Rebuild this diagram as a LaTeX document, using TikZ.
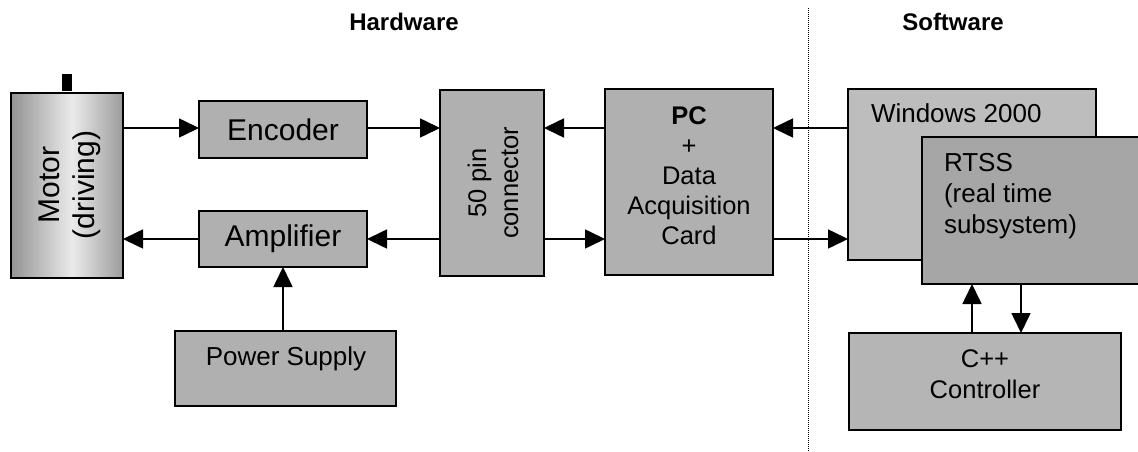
\documentclass[tikz,border=0pt]{standalone}
\usepackage{fontspec}
\setmainfont{Liberation Sans}
\usetikzlibrary{arrows.meta,calc}
\definecolor{boxgray}{gray}{0.69}
\definecolor{wingray}{gray}{0.74}
\definecolor{rtssgray}{gray}{0.65}
\definecolor{cppgray}{gray}{0.71}
\newcommand\FsA{\fontsize{30}{35}\selectfont}
\newcommand\FsB{\fontsize{25.5}{30}\selectfont}
\newcommand\FsC{\fontsize{26}{31}\selectfont}
\newcommand\FsT{\fontsize{24}{28}\selectfont\bfseries}
\begin{document}
\begin{tikzpicture}[x=1pt,y=-1pt,
  box/.style={draw=black, line width=1.6pt, fill=boxgray, inner sep=0pt, outer sep=0pt},
  txt/.style={inner sep=0pt, outer sep=0pt, text=black},
  arr/.style={line width=1.6pt, -{Triangle[length=20pt,width=19pt]}},
  sep/.style={line width=1pt, dash pattern=on 1pt off 1pt, black}]
\useasboundingbox (0,0) rectangle (1138,452);
\begin{scope}
\clip (0,0) rectangle (1138,452);

% titles
\node[txt, font=\FsT] (hw) at (404,22) {Hardware};
\node[txt, font=\FsT] (sw) at (953,22) {Software};

% separator
\coordinate (septop) at (808,8);
\coordinate (sepbot) at (808,452);
\draw[sep] (septop) -- (sepbot);

% motor (cylinder-like shading drawn as strips)
\node[fill=black, minimum width=10pt, minimum height=17pt, inner sep=0pt] (shaft) at (67,82.5) {};
\foreach \i in {0,...,55} {
  \pgfmathsetmacro{\t}{\i/55}
  \pgfmathsetmacro{\p}{\t<0.55 ? 42-34*(\t/0.55) : 8+30*((\t-0.55)/0.45)}
  \fill[black!\p] (11+2*\i,93) rectangle (13.2+2*\i,278);
}
\node[box, fill=none, minimum width=112pt, minimum height=185pt] (motor) at (67,185.5) {};
\node[txt, rotate=90, align=center, font=\FsA] (motortxt) at (70,185) {Motor\\(driving)};

% hardware boxes
\node[box, minimum width=168pt, minimum height=57pt, font=\FsA] (enc) at (283,129.5) {Encoder};
\node[box, minimum width=168pt, minimum height=56pt, font=\FsA] (amp) at (283,239) {Amplifier};
\node[box, minimum width=221pt, minimum height=75pt] (ps) at (285.5,368.5) {};
\node[txt, font=\FsC] (pstxt) at (286,359) {Power Supply};
\node[box, minimum width=104pt, minimum height=186pt] (conn) at (492,183) {};
\node[txt, rotate=90, align=center, font=\fontsize{25.5}{32}\selectfont] (conntxt) at (493,183) {50 pin\\connector};
\node[box, minimum width=168pt, minimum height=186pt] (pc) at (689,182) {};
\node[txt, align=center, font=\FsB] (pctxt) at (689,176) {\textbf{PC}\\+\\Data\\Acquisition\\Card};

% software boxes
\node[box, fill=wingray, minimum width=248pt, minimum height=171pt] (win) at (972,174.5) {};
\node[txt, anchor=base west, font=\FsC] (wintxt) at (871,122) {Windows 2000};
\node[box, fill=rtssgray, minimum width=228pt, minimum height=147pt] (rtss) at (1036,210.5) {};
\node[txt, anchor=north west, align=left, font=\FsC] (rtsstxt) at (944,153.5) {RTSS\\(real time\\subsystem)};
\node[box, fill=cppgray, minimum width=272pt, minimum height=97pt] (cpp) at (985,381.5) {};
\node[txt, align=center, font=\fontsize{25.5}{31}\selectfont] (cpptxt) at (985,374.5) {C++\\Controller};

% connectors
\coordinate (top) at (0,128);
\coordinate (bot) at (0,239);
\coordinate (upx) at (972,0);
\coordinate (dnx) at (1021,0);
\draw[arr] (motor.east |- top) -- (enc.west |- top);
\draw[arr] (enc.east |- top) -- (conn.west |- top);
\draw[arr] (amp.west |- bot) -- (motor.east |- bot);
\draw[arr] (conn.west |- bot) -- (amp.east |- bot);
\draw[arr] (ps.north -| amp.south) -- (amp.south);
\draw[arr] (pc.west |- top) -- (conn.east |- top);
\draw[arr] (conn.east |- bot) -- (pc.west |- bot);
\draw[arr] (win.west |- top) -- (pc.east |- top);
\draw[arr] (pc.east |- bot) -- (win.west |- bot);
\draw[arr] (cpp.north -| upx) -- (rtss.south -| upx);
\draw[arr] (rtss.south -| dnx) -- (cpp.north -| dnx);
\end{scope}
\end{tikzpicture}
\end{document}
